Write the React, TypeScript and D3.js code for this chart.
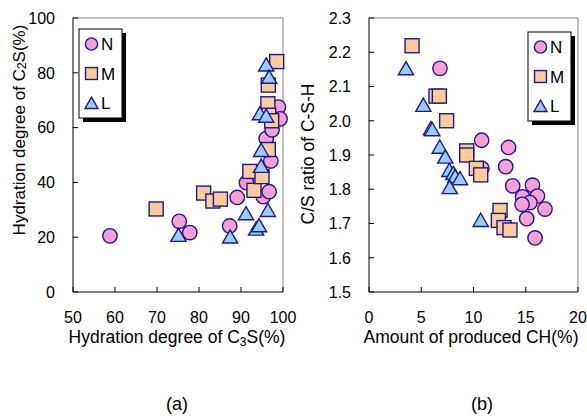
import React from "react";
import * as d3 from "d3";

// (a) hydration degree of C3S (x) vs C2S (y), %
const hydN: [number, number][] = [
  [58.8, 20.5], [75.3, 25.8], [77.8, 21.7], [87.3, 24.1], [89.1, 34.5],
  [91.3, 39.9], [95.3, 34.8], [96.7, 36.6], [96.0, 56.0], [97.1, 47.8],
  [97.4, 59.2], [98.9, 67.5], [99.3, 63.2],
];
const hydM: [number, number][] = [
  [69.8, 30.3], [81.1, 36.1], [83.3, 33.2], [85.1, 33.9], [92.1, 44.0],
  [93.1, 37.1], [95.0, 42.1], [96.5, 52.0], [96.5, 75.5], [96.4, 68.7],
  [96.6, 64.5], [97.3, 62.5], [98.5, 84.1],
];
const hydL: [number, number][] = [
  [75.1, 20.8], [87.4, 20.2], [91.2, 28.7], [93.6, 23.1], [94.3, 24.3],
  [96.4, 29.9], [94.8, 46.0], [94.8, 51.8], [94.5, 65.2], [96.0, 64.3],
  [96.0, 83.0], [96.7, 78.5],
];

// (b) amount of produced CH (x) vs C/S ratio of C-S-H (y)
const csN: [number, number][] = [
  [6.79, 2.153], [10.78, 1.943], [10.8, 1.861], [13.35, 1.922], [13.08, 1.866],
  [13.75, 1.81], [15.64, 1.812], [14.7, 1.778], [16.12, 1.78], [15.4, 1.761],
  [14.65, 1.756], [16.84, 1.742], [15.09, 1.714], [15.89, 1.658],
];
const csM: [number, number][] = [
  [4.12, 2.219], [6.41, 2.072], [6.73, 2.072], [7.43, 2.0], [9.35, 1.912],
  [9.35, 1.9], [10.27, 1.861], [10.69, 1.842], [12.54, 1.738], [12.38, 1.709],
  [12.92, 1.688], [13.49, 1.681],
];
const csL: [number, number][] = [
  [3.54, 2.153], [5.2, 2.046], [5.93, 1.978], [6.05, 1.975], [6.77, 1.924],
  [7.3, 1.895], [7.69, 1.856], [8.07, 1.847], [8.25, 1.838], [8.71, 1.832],
  [7.72, 1.806], [10.69, 1.71],
];

const ticksA_x = [50, 60, 70, 80, 90, 100];
const ticksA_y = [0, 20, 40, 60, 80, 100];
const ticksB_x = [0, 5, 10, 15, 20];
const ticksB_y = [1.5, 1.6, 1.7, 1.8, 1.9, 2.0, 2.1, 2.2, 2.3];
const seriesNames = ["N", "M", "L"];

const FONT = "'Liberation Sans', Arial, sans-serif";
const STROKE = "#1a1a8c";
const FILLS = ["#f99fd6", "#ffcc99", "#99ccff"];

const Marker = ({ kind, x, y, s = 1 }: { kind: number; x: number; y: number; s?: number }) => {
  if (kind === 0)
    return <circle cx={x} cy={y} r={7.2 * s} fill={FILLS[0]} stroke={STROKE} strokeWidth={1.4} />;
  if (kind === 1) {
    const h = 7 * s;
    return <rect x={x - h} y={y - h} width={2 * h} height={2 * h} fill={FILLS[1]} stroke={STROKE} strokeWidth={1.4} />;
  }
  const p = d3.path();
  p.moveTo(x, y - 6.8 * s);
  p.lineTo(x + 7.6 * s, y + 6.4 * s);
  p.lineTo(x - 7.6 * s, y + 6.4 * s);
  p.closePath();
  return <path d={p.toString()} fill={FILLS[2]} stroke={STROKE} strokeWidth={1.4} strokeLinejoin="miter" />;
};

const Legend = ({ x, y }: { x: number; y: number }) => (
  <g>
    <rect x={x + 4} y={y + 4} width={43} height={89} fill="#000" />
    <rect x={x} y={y} width={43} height={89} fill="#fff" stroke="#000" strokeWidth={1} />
    {seriesNames.map((n, i) => (
      <g key={n}>
        <Marker kind={i} x={x + 12.5} y={y + 15 + i * 29.5} s={0.85} />
        <text x={x + 22} y={y + 15 + i * 29.5} dy="0.36em" fontSize={17} fontFamily={FONT}>{n}</text>
      </g>
    ))}
  </g>
);

type PanelProps = {
  x: d3.ScaleLinear<number, number>;
  y: d3.ScaleLinear<number, number>;
  xt: number[];
  yt: number[];
  yfmt: (v: number) => string;
  series: [number, number][][];
};

const Panel = ({ x, y, xt, yt, yfmt, series }: PanelProps) => {
  const [x0, x1] = x.range();
  const [y0, y1] = y.range();
  return (
    <g>
      <line x1={x0} x2={x1} y1={y1} y2={y1} stroke="#808080" />
      <line x1={x1} x2={x1} y1={y1} y2={y0} stroke="#808080" />
      <line x1={x0} x2={x1} y1={y0} y2={y0} stroke="#000" />
      <line x1={x0} x2={x0} y1={y1} y2={y0} stroke="#000" />
      {yt.map((t) => (
        <g key={"y" + t}>
          <line x1={x0} x2={x0 + 5} y1={y(t)} y2={y(t)} stroke="#000" />
          <text x={x0 - 18} y={y(t)} dy="0.36em" textAnchor="end" fontSize={16} fontFamily={FONT}>{yfmt(t)}</text>
        </g>
      ))}
      {xt.map((t) => (
        <g key={"x" + t}>
          <line x1={x(t)} x2={x(t)} y1={y0} y2={y0 - 5} stroke="#000" />
          <text x={x(t)} y={323} textAnchor="middle" fontSize={16} fontFamily={FONT}>{t}</text>
        </g>
      ))}
      {series.map((pts, k) => (
        <g key={"s" + k}>
          {pts.map((d, i) => (
            <Marker key={i} kind={k} x={x(d[0])} y={y(d[1])} />
          ))}
        </g>
      ))}
    </g>
  );
};

export default function App() {
  const xa = d3.scaleLinear().domain([50, 100]).range([73, 283]);
  const ya = d3.scaleLinear().domain([0, 100]).range([292, 18]);
  const xb = d3.scaleLinear().domain([0, 20]).range([369, 578]);
  const yb = d3.scaleLinear().domain([1.5, 2.3]).range([292, 18]);
  return (
    <svg width={587} height={416} style={{ position: "absolute", left: 0, top: 0, background: "#fff" }}>
      <rect width={587} height={416} fill="#fff" />
      <Panel x={xa} y={ya} xt={ticksA_x} yt={ticksA_y} yfmt={(v) => String(v)} series={[hydN, hydM, hydL]} />
      <Panel x={xb} y={yb} xt={ticksB_x} yt={ticksB_y} yfmt={d3.format(".1f")} series={[csN, csM, csL]} />
      <Legend x={79} y={29} />
      <Legend x={528} y={32} />

      <text x={177} y={343} textAnchor="middle" fontSize={17.5} fontFamily={FONT}>
        Hydration degree of C<tspan fontSize={12} dy={3}>3</tspan><tspan dy={-3}>S(%)</tspan>
      </text>
      <text x={471} y={343} textAnchor="middle" fontSize={17.5} fontFamily={FONT}>
        Amount of produced CH(%)
      </text>
      <text transform="translate(25,130) rotate(-90)" textAnchor="middle" fontSize={17} fontFamily={FONT}>
        Hydration degree of C<tspan fontSize={12} dy={1}>2</tspan><tspan dy={-1}>S(%)</tspan>
      </text>
      <text transform="translate(314,154) rotate(-90)" textAnchor="middle" fontSize={17.5} fontFamily={FONT}>
        C/S ratio of C-S-H
      </text>
      <text x={177} y={410} textAnchor="middle" fontSize={18} fontFamily={FONT}>(a)</text>
      <text x={482} y={410} textAnchor="middle" fontSize={18} fontFamily={FONT}>(b)</text>
    </svg>
  );
}
